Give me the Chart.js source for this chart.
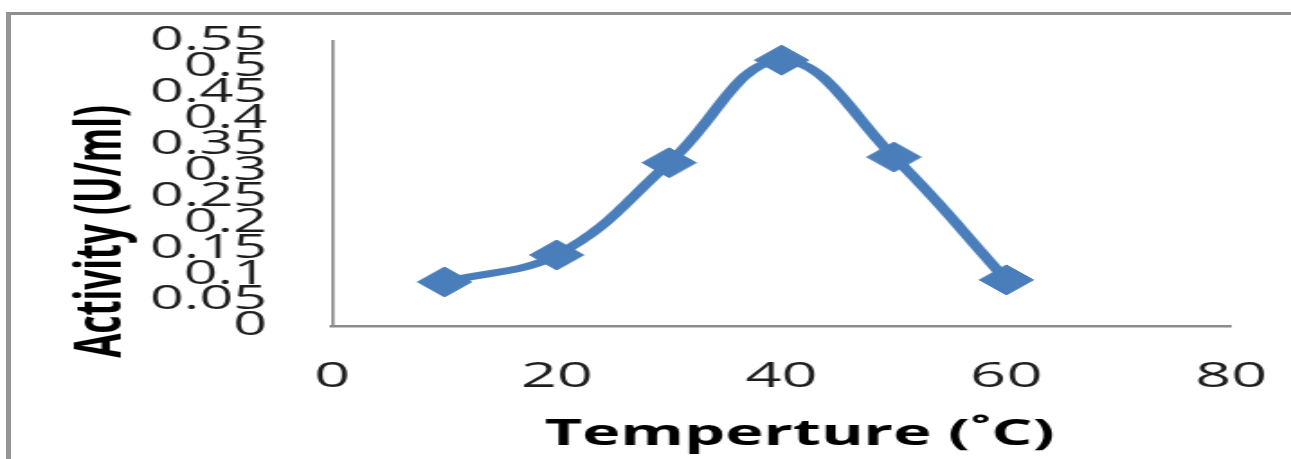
<!DOCTYPE html>
<html>
<head>
<meta charset="utf-8">
<script src="https://cdn.jsdelivr.net/npm/chart.js@4/dist/chart.umd.min.js"></script>
<style>
  html, body { margin: 0; padding: 0; background: #fff; overflow: hidden; }
  #stage { position: relative; width: 1291px; height: 459px; overflow: hidden; background: #fff; }
  #frame { position: absolute; left: 6px; top: 12px; width: 1400px; height: 600px;
           border-top: 3px solid #8f8f8f; border-left: 5px solid #959595; box-sizing: border-box; }
  /* the chart is laid out narrow and widened horizontally */
  #wrap { position: absolute; left: 0; top: 0; width: 717px; height: 459px;
          transform: scaleX(1.8006); transform-origin: 0 0; }
</style>
</head>
<body>
<div id="stage">
  <div id="frame"></div>
  <div id="wrap"><canvas id="c" width="717" height="459"></canvas></div>
</div>
<script>
// Enzyme activity measured at each incubation temperature
const temperatures = [10, 20, 30, 40, 50, 60];
const activity = [0.085, 0.137, 0.315, 0.513, 0.326, 0.089];

const xTickLabels = ['0', '20', '40', '60', '80'];
const yTickLabels = ['0', '0.05', '0.1', '0.15', '0.2', '0.25', '0.3', '0.35', '0.4', '0.45', '0.5', '0.55'];

const xTitle = 'Temperture (˚C)';
const yTitle = 'Activity (U/ml)';

const BLUE = '#4a7ebb';
const AXIS = '#8c8c8c';

// axis captions drawn relative to the plot area
const axisCaptions = {
  id: 'axisCaptions',
  afterDraw(chart) {
    const { ctx, chartArea } = chart;
    ctx.save();
    ctx.fillStyle = '#000';
    ctx.textAlign = 'center';

    ctx.font = 'bold 36px "Open Sans"';
    ctx.textBaseline = 'alphabetic';
    ctx.fillText(xTitle, (chartArea.left + chartArea.right) / 2 + 10, chartArea.bottom + 119);

    ctx.translate(chartArea.left - 127, (chartArea.top + chartArea.bottom) / 2 + 48);
    ctx.rotate(-Math.PI / 2);
    ctx.font = 'bold 35px "Open Sans"';
    ctx.textBaseline = 'middle';
    ctx.fillText(yTitle, 0, 0);
    ctx.restore();
  }
};

new Chart(document.getElementById('c'), {
  type: 'scatter',
  data: {
    datasets: [{
      data: temperatures.map((t, i) => ({ x: t, y: activity[i] })),
      showLine: true,
      borderColor: BLUE,
      backgroundColor: BLUE,
      borderWidth: 7,
      tension: 0.4,
      pointStyle: 'rectRot',
      pointRadius: 15,
      pointBorderWidth: 1,
      pointBackgroundColor: BLUE,
      pointBorderColor: BLUE,
      clip: false
    }]
  },
  options: {
    responsive: false,
    animation: false,
    devicePixelRatio: 1,
    layout: { padding: { left: 0, right: 33.3, top: 41, bottom: 0 } },
    plugins: { legend: { display: false }, tooltip: { enabled: false } },
    scales: {
      x: {
        type: 'linear',
        min: 0,
        max: 80,
        afterFit: s => { s.height = 133; s.paddingLeft = 0; s.paddingRight = 0; },
        ticks: {
          stepSize: 20,
          autoSkip: false,
          maxRotation: 0,
          padding: 30,
          color: '#1e1e1e',
          font: { family: 'Open Sans', size: 35 },
          callback: (v, i) => xTickLabels[i]
        },
        grid: { display: false, drawTicks: false },
        border: { display: true, color: AXIS, width: 2.5 }
      },
      y: {
        type: 'linear',
        min: 0,
        max: 0.55,
        afterFit: s => { s.width = 184.4; s.paddingTop = 0; s.paddingBottom = 0; },
        ticks: {
          stepSize: 0.05,
          autoSkip: false,
          padding: 36,
          color: '#1e1e1e',
          font: { family: 'Open Sans', size: 33 },
          callback: (v, i) => yTickLabels[i]
        },
        grid: { display: false, drawTicks: false },
        border: { display: true, color: AXIS, width: 1.7 }
      }
    }
  },
  plugins: [axisCaptions]
});
</script>
</body>
</html>
